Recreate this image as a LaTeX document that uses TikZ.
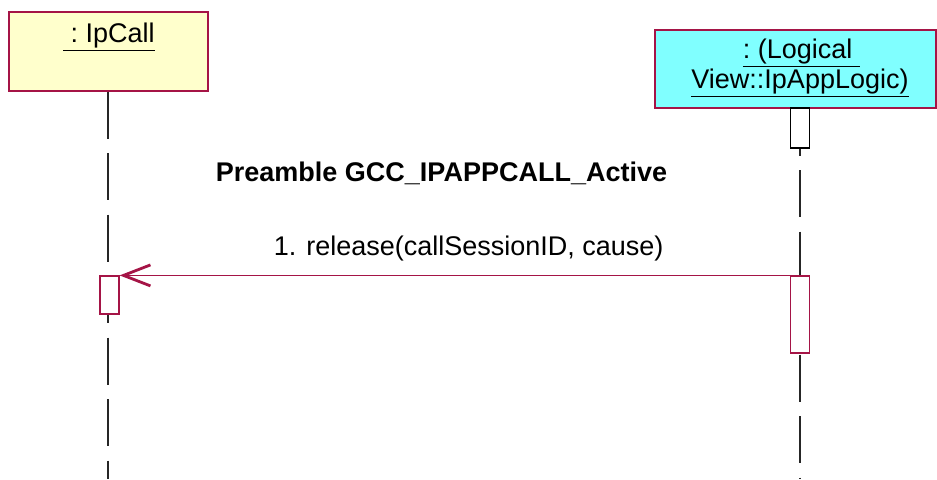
\documentclass[tikz,border=0pt]{standalone}
\usepackage{fontspec}
\setmainfont{Liberation Sans}
\usetikzlibrary{arrows.meta}
\definecolor{umlred}{RGB}{165,20,70}
\definecolor{objyellow}{RGB}{255,255,204}
\definecolor{objcyan}{RGB}{128,255,255}
\tikzset{
  objbox/.style={draw=umlred, line width=0.6pt, inner sep=0pt},
  lifeline/.style={draw=black!85, line width=0.6pt, dash pattern=on 23.5pt off 7.25pt},
  actbar/.style={draw=umlred, fill=white, line width=0.6pt, inner sep=0pt, minimum width=9.75pt},
  msg/.style={draw=umlred, line width=0.6pt},
  lbl/.style={anchor=base, inner sep=0pt, font=\fontsize{13.5}{15}\selectfont},
}
\begin{document}
\begin{tikzpicture}[x=0.5pt, y=-0.5pt]
    \useasboundingbox (0,0) rectangle (937,479);

    \node (ipcall) [objbox, fill=objyellow, minimum width=99.5pt, minimum height=39.5pt] at (108.5,51.5){};
    \node (applogic) [objbox, fill=objcyan, minimum width=140.5pt, minimum height=39pt] at (795.5,69){};
    \node (ipcalltxt) [lbl] at (109,42){\underline{\ :~IpCall}};
    \node (applogictxta) [lbl] at (801.5,58){\underline{:~(Logical~}};
    \node (applogictxtb) [lbl] at (800,88){\underline{View::IpAppLogic)}};

    \coordinate (ipcallend) at (108,479);
    \coordinate (applogicend) at (800,479);
    \draw[lifeline] (ipcall.south -| ipcallend) -- (ipcallend);
    \draw[lifeline] (applogic.south -| applogicend) -- (applogicend);

    \node (preact) [actbar, draw=black, minimum height=20pt] at (800,128){};
    \node (relsend) [actbar, minimum height=38.5pt] at (800,314.5){};
    \node (relrecv) [actbar, minimum width=9.5pt, minimum height=19pt] at (109.5,295){};

    \node (preamble) [lbl, font=\fontsize{13.5}{15}\selectfont\bfseries] at (441.5,181){Preamble GCC\_IPAPPCALL\_Active};

    \draw (relsend.north west) edge[msg, -{Straight Barb[length=13.5pt, width=10.5pt, line width=1.4pt]}]
      node[lbl, pos=0.479, yshift=10pt]{1. release(callSessionID, cause)} (relrecv.north east);
  \end{tikzpicture}
\end{document}
